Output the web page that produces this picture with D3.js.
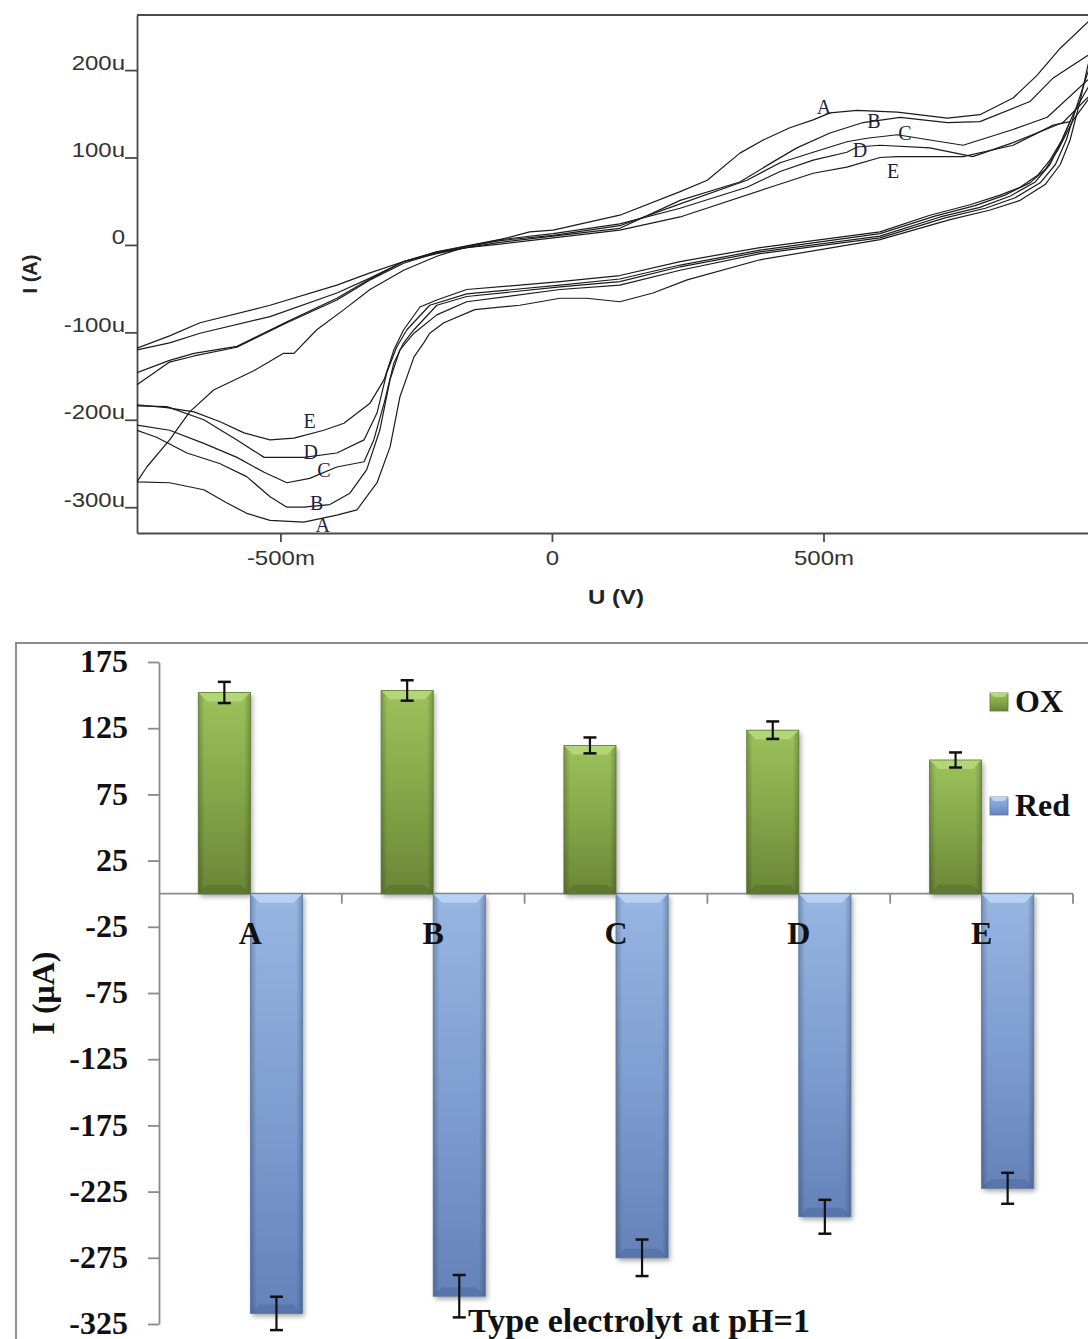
<!DOCTYPE html>
<html>
<head>
<meta charset="utf-8">
<script src="https://cdn.jsdelivr.net/npm/d3@7"></script>
<style>
  html, body { margin: 0; padding: 0; background: #fff; }
  #chart { width: 1088px; height: 1339px; }
</style>
</head>
<body>
<div id="chart"></div>
<script>
// ---- top chart: cyclic voltammograms, U in mV, I in uA ----
var cvNames = ["A", "B", "C", "D", "E"];
var yTicksTop = [200, 100, 0, -100, -200, -300];
var xTicksTop = [-500, 0, 500];

var forwardA = [[-764,-271],[-746,-254],[-704,-223],[-667,-191],[-623,-166],[-549,-144],[-494,-124],[-475,-124],[-433,-97],[-383,-74],[-335,-51],[-273,-29],[-212,-13],[-157,-2],[-96,6],[-41,15],[2,17],[125,34],[236,61],[286,74],[346,105],[389,120],[438,134],[481,143],[512,151],[562,154],[636,152],[728,145],[788,149],[849,168],[893,194],[936,225],[987,255],[1009,271]];
var reverseA = [[1009,235],[987,206],[973,166],[954,120],[936,92],[908,69],[862,51],[807,40],[733,29],[604,6],[383,-17],[249,-40],[186,-55],[125,-65],[64,-61],[15,-61],[-59,-69],[-142,-74],[-199,-89],[-225,-101],[-236,-112],[-254,-128],[-280,-174],[-298,-231],[-322,-272],[-359,-303],[-396,-309],[-457,-317],[-519,-315],[-562,-307],[-599,-295],[-641,-280],[-704,-272],[-764,-271]];

var forwardB = [[-764,-160],[-704,-134],[-659,-127],[-580,-117],[-488,-89],[-396,-63],[-335,-40],[-273,-21],[-212,-9],[-157,-3],[-96,3],[2,10],[125,19],[236,51],[346,72],[407,95],[451,111],[512,128],[573,140],[641,146],[728,140],[788,141],[880,164],[923,191],[987,217],[1009,229]];
var reverseB = [[1009,223],[987,198],[967,160],[947,120],[927,92],[899,71],[853,54],[798,42],[724,31],[604,8],[383,-10],[236,-29],[125,-46],[15,-51],[-157,-65],[-212,-80],[-254,-101],[-280,-120],[-298,-154],[-317,-212],[-341,-257],[-372,-284],[-409,-297],[-457,-300],[-488,-300],[-519,-288],[-562,-265],[-612,-250],[-672,-238],[-728,-220],[-764,-212]];

var forwardC = [[-764,-146],[-704,-132],[-659,-124],[-580,-116],[-488,-88],[-396,-61],[-335,-39],[-273,-19],[-212,-8],[-157,-2],[-96,5],[2,11],[125,22],[236,47],[359,74],[420,94],[481,106],[543,118],[580,122],[636,126],[696,120],[757,114],[849,132],[912,146],[987,189],[1009,198]];
var reverseC = [[1009,206],[987,180],[963,154],[939,120],[917,92],[890,72],[844,56],[788,43],[715,32],[604,10],[383,-8],[236,-25],[125,-42],[15,-48],[-157,-59],[-212,-69],[-254,-97],[-273,-112],[-291,-135],[-309,-181],[-328,-223],[-346,-248],[-396,-254],[-446,-267],[-488,-272],[-530,-260],[-580,-243],[-641,-227],[-704,-212],[-764,-206]];

var forwardD = [[-764,-120],[-704,-112],[-648,-101],[-519,-82],[-396,-55],[-335,-38],[-273,-19],[-212,-8],[-157,-1],[-96,6],[2,13],[125,24],[236,42],[359,66],[420,84],[481,97],[543,106],[562,112],[604,114],[696,111],[775,101],[849,117],[941,140],[987,169],[1009,177]];
var reverseD = [[1009,183],[987,166],[960,143],[932,109],[908,86],[880,71],[834,57],[779,45],[705,33],[604,13],[383,-6],[236,-23],[125,-39],[15,-46],[-157,-56],[-225,-69],[-267,-97],[-286,-117],[-304,-146],[-322,-192],[-346,-223],[-396,-238],[-457,-243],[-530,-243],[-580,-223],[-641,-200],[-709,-185],[-764,-184]];

var forwardE = [[-764,-118],[-704,-104],[-648,-89],[-519,-69],[-396,-46],[-335,-32],[-273,-19],[-212,-10],[-157,-3],[-96,1],[2,8],[125,17],[236,32],[402,66],[481,82],[543,89],[604,100],[636,101],[757,101],[849,114],[923,137],[954,141]];
var reverseE = [[954,141],[939,120],[917,97],[895,80],[862,66],[825,57],[770,46],[696,34],[604,15],[383,-3],[236,-19],[125,-35],[15,-42],[-157,-51],[-212,-63],[-243,-71],[-273,-97],[-291,-120],[-309,-154],[-335,-181],[-383,-204],[-420,-212],[-475,-221],[-519,-223],[-567,-215],[-612,-202],[-659,-191],[-709,-186],[-764,-183]];

var cvLabels = [["A",501,158],["B",593,142],["C",650,128],["D",567,109],["E",628,84],
                ["E",-446,-201],["D",-444,-237],["C",-420,-257],["B",-433,-295],["A",-422,-320]];

// ---- bottom chart: peak currents ----
var categories = ["A", "B", "C", "D", "E"];
var oxValues = [152, 153.5, 112, 123.5, 101];
var oxErrors = [8, 7.7, 6, 6.6, 5.7];
var redValues = [-317, -304, -275, -244, -222.5];
var redErrors = [12.6, 16, 13.8, 12.8, 11.7];
var barTicks = [175, 125, 75, 25, -25, -75, -125, -175, -225, -275, -325];
var seriesNames = ["OX", "Red"];

var svg = d3.select("#chart").append("svg")
    .attr("width", 1088)
    .attr("height", 1339);

var defs = svg.append("defs");

// ================= top chart =================
var xT = d3.scaleLinear().domain([-764, 987]).range([137, 1088]);
var yT = d3.scaleLinear().domain([263, -329.5]).range([15, 533]);

defs.append("clipPath").attr("id", "cvclip")
    .append("rect").attr("x", 137).attr("y", 15).attr("width", 960).attr("height", 518);

var gTop = svg.append("g");

gTop.append("line")
    .attr("x1", 137).attr("x2", 1088).attr("y1", 15).attr("y2", 15)
    .attr("stroke", "#4a4a4a").attr("stroke-width", 2);

gTop.append("g")
    .attr("transform", "translate(137,0)")
    .call(d3.axisLeft(yT).tickValues(yTicksTop).tickSize(12).tickSizeOuter(0)
        .tickFormat(function (d) { return d === 0 ? "0" : d + "u"; }))
    .call(function (g) {
        g.selectAll("path, line").attr("stroke", "#4a4a4a").attr("stroke-width", 1.8);
        g.selectAll("text")
            .attr("x", -10).attr("dy", "-0.05em")
            .attr("transform", "scale(1.2,1)")
            .attr("fill", "#333")
            .style("font-family", "Liberation Sans, Arial, sans-serif")
            .style("font-size", "20px");
    });

gTop.append("g")
    .attr("transform", "translate(0,533)")
    .call(d3.axisBottom(xT).tickValues(xTicksTop).tickSize(9).tickSizeOuter(0)
        .tickFormat(function (d) { return d === 0 ? "0" : d + "m"; }))
    .call(function (g) {
        g.selectAll("path, line").attr("stroke", "#4a4a4a").attr("stroke-width", 1.8);
        g.selectAll("text")
            .attr("y", 32).attr("dy", "0")
            .attr("transform", "scale(1.2,1)")
            .attr("fill", "#333")
            .style("font-family", "Liberation Sans, Arial, sans-serif")
            .style("font-size", "20px");
    });

gTop.append("text")
    .attr("transform", "translate(616,604) scale(1.2,1)")
    .attr("text-anchor", "middle")
    .style("font-family", "Liberation Sans, Arial, sans-serif")
    .style("font-size", "20px").style("font-weight", "bold")
    .attr("fill", "#222")
    .text("U (V)");

gTop.append("text")
    .attr("transform", "translate(37,274) rotate(-90)")
    .attr("text-anchor", "middle")
    .style("font-family", "Liberation Sans, Arial, sans-serif")
    .style("font-size", "20px").style("font-weight", "bold")
    .attr("fill", "#222")
    .text("I (A)");

var cvLoops = [forwardA.concat(reverseA), forwardB.concat(reverseB), forwardC.concat(reverseC),
               forwardD.concat(reverseD), forwardE.concat(reverseE)];

var line = d3.line()
    .x(function (d) { return xT(d[0]); })
    .y(function (d) { return yT(d[1]); });

gTop.append("g").attr("clip-path", "url(#cvclip)")
    .selectAll("path")
    .data(cvLoops)
    .enter()
    .append("path")
    .attr("d", line)
    .attr("fill", "none")
    .attr("stroke", "#1b1b1b")
    .attr("stroke-width", 1.2)
    .attr("stroke-linejoin", "round");

gTop.selectAll(".cvlabel")
    .data(cvLabels)
    .enter()
    .append("text")
    .attr("class", "cvlabel")
    .attr("x", function (d) { return xT(d[1]); })
    .attr("y", function (d) { return yT(d[2]); })
    .attr("text-anchor", "middle")
    .attr("dominant-baseline", "central")
    .style("font-family", "Liberation Serif, Times New Roman, serif")
    .style("font-size", "20px")
    .attr("fill", "#1d2240")
    .text(function (d) { return d[0]; });

// ================= bottom chart =================
var xB = d3.scaleBand().domain(categories).range([159, 1073]);
var yB = d3.scaleLinear().domain([175, -325]).range([662, 1324]);
var xS = d3.scaleBand().domain(seriesNames)
    .range([xB.bandwidth() * 0.215, xB.bandwidth() * 0.785]);

function grad(id, stops, horizontal) {
    var g = defs.append("linearGradient").attr("id", id)
        .attr("x1", 0).attr("y1", 0)
        .attr("x2", horizontal ? 1 : 0).attr("y2", horizontal ? 0 : 1);
    stops.forEach(function (s) {
        g.append("stop").attr("offset", s[0]).attr("stop-color", s[1]).attr("stop-opacity", s[2] == null ? 1 : s[2]);
    });
}
grad("gGreen", [[0, "#9cc25c"], [0.5, "#84a748"], [1, "#6a8638"]]);
grad("gBlue", [[0, "#97b6e3"], [0.5, "#7f9ed1"], [1, "#6482b8"]]);
grad("gSide", [[0, "#000", 0.22], [0.12, "#000", 0], [0.88, "#000", 0], [1, "#000", 0.22]], true);

var shadow = defs.append("filter").attr("id", "shadow")
    .attr("x", "-20%").attr("y", "-5%").attr("width", "150%").attr("height", "115%");
shadow.append("feDropShadow").attr("dx", 2).attr("dy", 3).attr("stdDeviation", 2.5)
    .attr("flood-color", "#000").attr("flood-opacity", 0.35);

var gBottom = svg.append("g");

gBottom.append("rect")
    .attr("x", 16).attr("y", 643).attr("width", 1090).attr("height", 720)
    .attr("fill", "none").attr("stroke", "#8e8e8e").attr("stroke-width", 2);

gBottom.append("g")
    .attr("transform", "translate(159,0)")
    .call(d3.axisLeft(yB).tickValues(barTicks).tickSize(11).tickPadding(20).tickSizeOuter(0)
        .tickFormat(function (d) { return String(d); }))
    .call(function (g) {
        g.selectAll("path, line").attr("stroke", "#8a8a8a").attr("stroke-width", 1.8);
        g.selectAll("text")
            .attr("dy", "0.3em")
            .attr("fill", "#111")
            .style("font-family", "Liberation Serif, Times New Roman, serif")
            .style("font-size", "32px").style("font-weight", "bold");
    });

var y0 = yB(0);
gBottom.append("line")
    .attr("x1", 159).attr("x2", xB.range()[1]).attr("y1", y0).attr("y2", y0)
    .attr("stroke", "#8a8a8a").attr("stroke-width", 1.8);
gBottom.selectAll(".cattick")
    .data(categories)
    .enter()
    .append("line")
    .attr("x1", function (d) { return xB(d) + xB.bandwidth(); })
    .attr("x2", function (d) { return xB(d) + xB.bandwidth(); })
    .attr("y1", y0).attr("y2", y0 + 10)
    .attr("stroke", "#8a8a8a").attr("stroke-width", 1.8);

var bars = [];
categories.forEach(function (c, i) {
    bars.push({ cat: c, s: "OX", v: oxValues[i], e: oxErrors[i] });
    bars.push({ cat: c, s: "Red", v: redValues[i], e: redErrors[i] });
});

var bevel = 9;
var barG = gBottom.selectAll(".bar")
    .data(bars)
    .enter()
    .append("g")
    .attr("class", "bar");

barG.each(function (d) {
    var g = d3.select(this);
    var bx = xB(d.cat) + xS(d.s);
    var bw = xS.bandwidth();
    var by = Math.min(yB(d.v), y0);
    var bh = Math.abs(yB(d.v) - y0);
    var green = d.s === "OX";
    g.append("rect")
        .attr("x", bx).attr("y", by).attr("width", bw).attr("height", bh)
        .attr("fill", green ? "url(#gGreen)" : "url(#gBlue)")
        .attr("filter", "url(#shadow)");
    g.append("rect")
        .attr("x", bx).attr("y", by).attr("width", bw).attr("height", bh)
        .attr("fill", "url(#gSide)");
    // light bevel at the top face, dark bevel at the bottom face
    g.append("path")
        .attr("d", "M" + bx + "," + by + "H" + (bx + bw) + "L" + (bx + bw - bevel) + "," + (by + bevel) +
            "H" + (bx + bevel) + "Z")
        .attr("fill", green ? "#b6d87c" : "#bdd4f3")
        .attr("opacity", 0.9);
    g.append("path")
        .attr("d", "M" + bx + "," + (by + bh) + "H" + (bx + bw) + "L" + (bx + bw - bevel) + "," + (by + bh - bevel) +
            "H" + (bx + bevel) + "Z")
        .attr("fill", green ? "#4f6a26" : "#4a6698")
        .attr("opacity", 0.45);
    g.append("rect")
        .attr("x", bx).attr("y", by).attr("width", bw).attr("height", bh)
        .attr("fill", "none")
        .attr("stroke", green ? "#5e7a2e" : "#5675a8")
        .attr("stroke-width", 0.8);
});

// error bars
barG.each(function (d) {
    var g = d3.select(this);
    var cx = xB(d.cat) + xS(d.s) + xS.bandwidth() / 2;
    var ya = yB(d.v - d.e), yb = yB(d.v + d.e);
    g.append("line").attr("x1", cx).attr("x2", cx).attr("y1", ya).attr("y2", yb)
        .attr("stroke", "#111").attr("stroke-width", 2.2);
    [ya, yb].forEach(function (yy) {
        g.append("line").attr("x1", cx - 6.5).attr("x2", cx + 6.5).attr("y1", yy).attr("y2", yy)
            .attr("stroke", "#111").attr("stroke-width", 2.5);
    });
});

// category labels drawn over the bars
gBottom.selectAll(".catlabel")
    .data(categories)
    .enter()
    .append("text")
    .attr("x", function (d) { return xB(d) + xB.bandwidth() / 2; })
    .attr("y", 944)
    .attr("text-anchor", "middle")
    .attr("fill", "#111")
    .style("font-family", "Liberation Serif, Times New Roman, serif")
    .style("font-size", "32px").style("font-weight", "bold")
    .text(function (d) { return d; });

// legend
var legend = gBottom.selectAll(".legend")
    .data(seriesNames)
    .enter()
    .append("g")
    .attr("transform", function (d, i) { return "translate(990," + (693 + i * 104) + ")"; });
legend.append("rect")
    .attr("width", 18).attr("height", 18)
    .attr("fill", function (d) { return d === "OX" ? "url(#gGreen)" : "url(#gBlue)"; })
    .attr("stroke", function (d) { return d === "OX" ? "#5e7a2e" : "#5675a8"; })
    .attr("stroke-width", 0.8);
legend.append("path")
    .attr("d", "M0,0H18L14,4H4Z")
    .attr("fill", function (d) { return d === "OX" ? "#b6d87c" : "#bdd4f3"; });
legend.append("text")
    .attr("x", 25).attr("y", 19)
    .attr("fill", "#111")
    .style("font-family", "Liberation Serif, Times New Roman, serif")
    .style("font-size", "32px").style("font-weight", "bold")
    .text(function (d) { return d; });

// axis titles
gBottom.append("text")
    .attr("transform", "translate(54,993) rotate(-90)")
    .attr("text-anchor", "middle")
    .attr("fill", "#111")
    .style("font-family", "Liberation Serif, Times New Roman, serif")
    .style("font-size", "32px").style("font-weight", "bold")
    .text("I (μA)");

gBottom.append("text")
    .attr("x", 639).attr("y", 1332)
    .attr("text-anchor", "middle")
    .attr("fill", "#111")
    .style("font-family", "Liberation Serif, Times New Roman, serif")
    .style("font-size", "34px").style("font-weight", "bold")
    .text("Type electrolyt at pH=1");
</script>
</body>
</html>
